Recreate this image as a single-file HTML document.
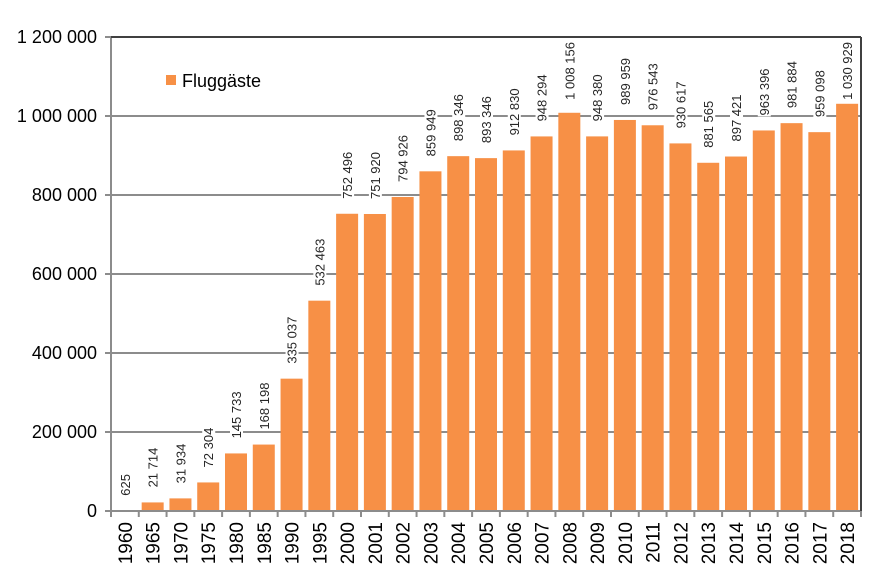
<!DOCTYPE html>
<html><head><meta charset="utf-8"><style>
html,body{margin:0;padding:0;background:#fff}
svg{display:block;font-family:"Liberation Sans",sans-serif}
</style></head><body>
<svg id="s" width="876" height="569" xmlns="http://www.w3.org/2000/svg"></svg>
<script>
const years=["1960","1965","1970","1975","1980","1985","1990","1995","2000","2001","2002","2003","2004","2005","2006","2007","2008","2009","2010","2011","2012","2013","2014","2015","2016","2017","2018"];
const vals=[625,21714,31934,72304,145733,168198,335037,532463,752496,751920,794926,859949,898346,893346,912830,948294,1008156,948380,989959,976543,930617,881565,897421,963396,981884,959098,1030929];
const s=document.getElementById('s');const NS='http://www.w3.org/2000/svg';
function el(t,a,txt){const e=document.createElementNS(NS,t);for(const k in a)e.setAttribute(k,a[k]);if(txt!==undefined)e.textContent=txt;s.appendChild(e);return e;}
const L=111,R=861,T=37,B=511,cw=(R-L)/27;
const Y=v=>B-v*(B-T)/1200000;
const fmt=v=>String(v).replace(/\B(?=(\d{3})+(?!\d))/g,' ');
for(let k=1;k<=5;k++){const y=Y(k*200000);el('line',{x1:L-6,x2:R,y1:y,y2:y,stroke:'#8c8c8c','stroke-width':2});}
for(let k=0;k<=6;k++){const y=Y(k*200000);el('text',{x:97,y:y+6,'text-anchor':'end','font-size':18,fill:'#000'},fmt(k*200000));}
el('line',{x1:L-6,x2:L,y1:T,y2:T,stroke:'#8c8c8c','stroke-width':2});
vals.forEach((v,i)=>{const cx=L+cw*(i+0.5);el('rect',{x:cx-11,y:Y(v),width:22,height:B-Y(v),fill:'#f79046'});});
vals.forEach((v,i)=>{const cx=L+cw*(i+0.5);
 const t=el('text',{'font-size':13,fill:'#262626'},fmt(v));
 const len=t.getComputedTextLength();
 let y0=Y(v)-15; if(y0-len<42)y0=42+len;
 t.setAttribute('transform',`translate(${cx+5},${y0}) rotate(-90)`);
 const r=document.createElementNS(NS,'rect');
 r.setAttribute('x',cx-6);r.setAttribute('y',y0-len-1);r.setAttribute('width',13);r.setAttribute('height',len+2);r.setAttribute('fill','#fff');
 s.insertBefore(r,t);
});
el('line',{x1:L,x2:L,y1:T,y2:B+6,stroke:'#8c8c8c','stroke-width':2});
el('line',{x1:L-6,x2:R,y1:B,y2:B,stroke:'#8c8c8c','stroke-width':2});
for(let i=0;i<=27;i++){const x=L+cw*i;el('line',{x1:x,x2:x,y1:B,y2:B+6,stroke:'#8c8c8c','stroke-width':2});}
el('line',{x1:L,x2:R,y1:T,y2:T,stroke:'#404040','stroke-width':2});
el('line',{x1:R,x2:R,y1:T,y2:B,stroke:'#404040','stroke-width':2});
years.forEach((yr,i)=>{const cx=L+cw*(i+0.5);el('text',{'font-size':19,fill:'#000','text-anchor':'end',transform:`translate(${cx+7},${B+11}) rotate(-90)`},yr);});
el('rect',{x:166,y:75,width:10,height:10,fill:'#f79046'});
el('text',{x:182,y:87,'font-size':18,fill:'#000'},'Fluggäste');
</script>
</body></html>
